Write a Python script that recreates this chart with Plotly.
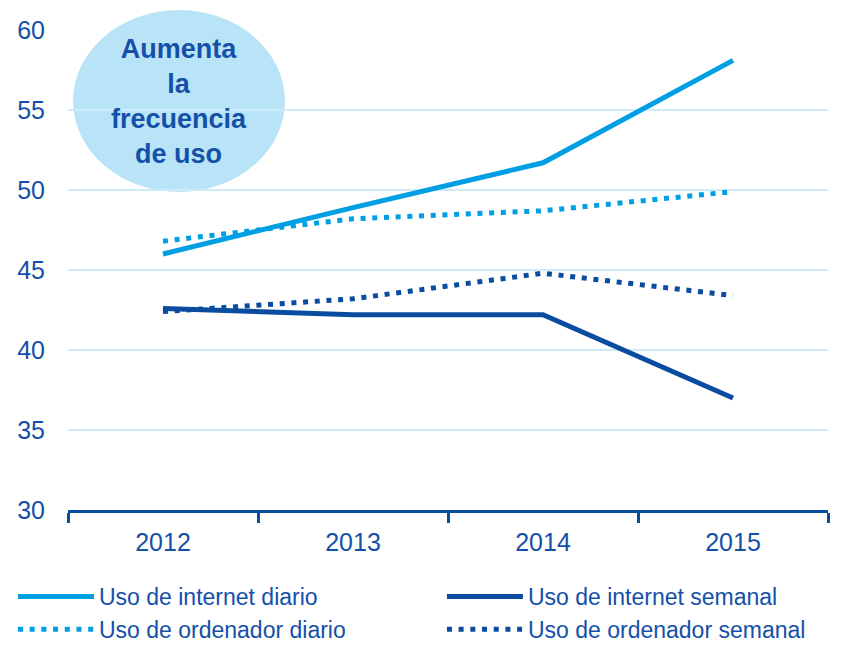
import plotly.graph_objects as go

years = ["2012", "2013", "2014", "2015"]
internet_diario = [46.0, 48.9, 51.7, 58.1]
internet_semanal = [42.6, 42.2, 42.2, 37.0]
ordenador_diario = [46.8, 48.2, 48.7, 49.9]
ordenador_semanal = [42.4, 43.2, 44.8, 43.4]

LIGHT = "#009FE3"
DARK = "#0A4C9F"
TEXT = "#1450A8"
FONT = "Liberation Sans, Arial, sans-serif"
DOT = "5px,6.7px"

fig = go.Figure()
fig.add_trace(go.Scatter(x=years, y=internet_diario, name="Uso de internet diario",
                         mode="lines", line=dict(color=LIGHT, width=5), legend="legend"))
fig.add_trace(go.Scatter(x=years, y=ordenador_diario, name="Uso de ordenador diario",
                         mode="lines", line=dict(color=LIGHT, width=5, dash=DOT), legend="legend"))
fig.add_trace(go.Scatter(x=years, y=internet_semanal, name="Uso de internet semanal",
                         mode="lines", line=dict(color=DARK, width=5), legend="legend2"))
fig.add_trace(go.Scatter(x=years, y=ordenador_semanal, name="Uso de ordenador semanal",
                         mode="lines", line=dict(color=DARK, width=5, dash=DOT), legend="legend2"))

fig.add_shape(type="circle", xref="paper", yref="paper",
              x0=0.0066, x1=0.2855, y0=0.6625, y1=1.0417,
              fillcolor="#B9E4F7", line=dict(width=0), layer="below")
fig.add_annotation(xref="paper", yref="paper", x=0.146, y=0.852,
                   text="<b>Aumenta<br>la<br>frecuencia<br>de uso</b>",
                   showarrow=False, font=dict(family=FONT, size=27, color=TEXT),
                   align="center", xanchor="center", yanchor="middle")

leg_common = dict(orientation="v", yanchor="top", y=-0.1354, xanchor="left",
                  itemwidth=76, font=dict(family=FONT, size=23, color=TEXT),
                  traceorder="normal", tracegroupgap=0, bgcolor="rgba(0,0,0,0)")

fig.update_layout(
    width=849, height=645,
    margin=dict(l=60, r=29, t=22, b=143, autoexpand=False),
    paper_bgcolor="white", plot_bgcolor="white",
    font=dict(family=FONT, size=25, color=TEXT),
    showlegend=True,
    legend=dict(x=-0.0724, **leg_common),
    legend2=dict(x=0.492, **leg_common),
    xaxis=dict(type="category", range=[-0.5, 3.5], showline=True, linecolor=DARK, linewidth=3,
               ticks="outside", tickson="boundaries", ticklen=10, tickwidth=3,
               tickcolor=DARK, showgrid=False, ticklabelstandoff=8,
               tickfont=dict(family=FONT, size=25, color=TEXT)),
    yaxis=dict(range=[30, 60], tickvals=[30, 35, 40, 45, 50, 55, 60],
               showgrid=True, gridcolor="#CDEBF8", gridwidth=1.5, zeroline=False,
               showline=False, ticks="", ticklabelstandoff=22,
               tickfont=dict(family=FONT, size=25, color=TEXT)),
)

fig.write_html("out.html")
